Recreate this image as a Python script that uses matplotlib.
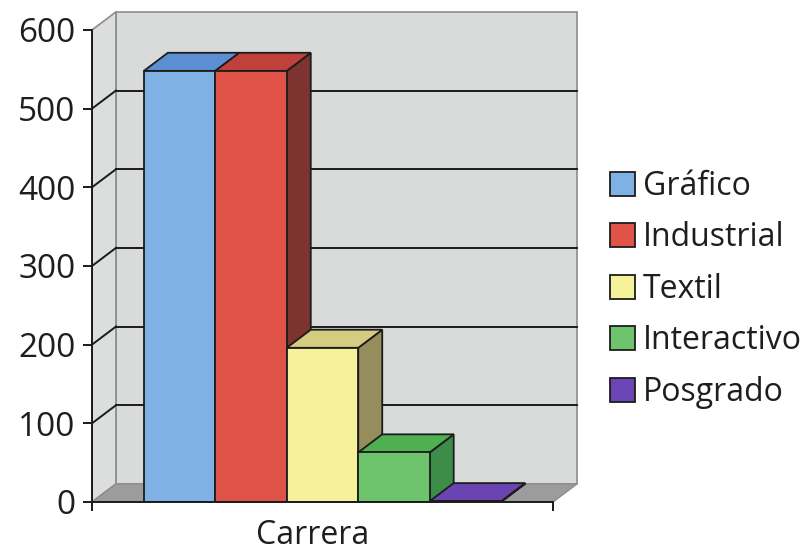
# Libraries
import matplotlib
matplotlib.use('Agg')
import matplotlib.pyplot as plt
from matplotlib.patches import Polygon, Rectangle, Patch

plt.rcParams['font.family'] = ['Open Sans', 'DejaVu Sans']

# Data
categorias = ['Gráfico', 'Industrial', 'Textil', 'Interactivo', 'Posgrado']
valores = [548, 548, 196, 63, 1]
ticks_y = [0, 100, 200, 300, 400, 500, 600]
etiqueta_x = 'Carrera'

# Colours (front, top, side)
frente = ['#7fb1e5', '#df5349', '#f6f29c', '#6dc46c', '#6b45b3']
arriba = ['#5b8ed3', '#c0413b', '#d4cc80', '#4fb052', '#6a44b0']
lado = ['#3f6fb0', '#7d3430', '#958d5c', '#3d8c48', '#4b2f85']

# 3D look: depth offset in data units
dx, dy = 0.052, 23
ymax = 600
ancho = 0.155
x_inicio = (1 - len(categorias)*ancho) / 2
borde = '#1c1c1c'
texto = '#1e1e1e'

fig = plt.figure(figsize=(8.11, 5.54), dpi=100)
ax = fig.add_axes([0.11344, 0.0939, 0.6026, 0.8946])
ax.set_xlim(0, 1.06)
ax.set_ylim(0, 630)

# Walls and floor
ax.add_patch(Polygon([(dx, dy), (1+dx, dy), (1+dx, ymax+dy), (dx, ymax+dy)],
                     closed=True, facecolor='#d9dbdb', edgecolor='#8c8c8c', lw=1.2, zorder=1))
ax.add_patch(Polygon([(0, 0), (dx, dy), (dx, ymax+dy), (0, ymax)],
                     closed=True, facecolor='#dcdede', edgecolor='#8c8c8c', lw=1.2, zorder=1))

# Grid lines on the back wall and the left wall
for v in ticks_y[1:-1]:
    ax.plot([dx, 1+dx], [v+dy, v+dy], color='#1a1a1a', lw=1.4, zorder=2)
    ax.plot([0, dx], [v, v+dy], color='#1a1a1a', lw=1.4, zorder=2)

ax.add_patch(Polygon([(0, 0), (1, 0), (1+dx, dy), (dx, dy)],
                     closed=True, facecolor='#9c9c9c', edgecolor='#8c8c8c', lw=1, zorder=2))

# Bars
for i, (v, cf, ct, cs) in enumerate(zip(valores, frente, arriba, lado)):
    x0 = x_inicio + i*ancho
    x1 = x0 + ancho
    ax.add_patch(Polygon([(x1, 0), (x1+dx, dy), (x1+dx, v+dy), (x1, v)],
                         closed=True, facecolor=cs, edgecolor=borde, lw=1.3, zorder=3+i))
    ax.add_patch(Polygon([(x0, v), (x1, v), (x1+dx, v+dy), (x0+dx, v+dy)],
                         closed=True, facecolor=ct, edgecolor=borde, lw=1.3, zorder=3+i))
    ax.add_patch(Rectangle((x0, 0), ancho, v, facecolor=cf, edgecolor=borde, lw=1.3, zorder=3+i))

# Axes
for s in ['top', 'right']:
    ax.spines[s].set_visible(False)
ax.spines['left'].set_bounds(0, ymax)
ax.spines['bottom'].set_bounds(0, 1)
for s in ['left', 'bottom']:
    ax.spines[s].set_color('#1a1a1a')
    ax.spines[s].set_linewidth(1.4)
    ax.spines[s].set_zorder(20)
ax.set_yticks(ticks_y)
ax.set_yticklabels([str(t) for t in ticks_y], fontsize=24, color=texto)
ax.set_xticks([0, 1])
ax.set_xticklabels(['', ''])
ax.tick_params(axis='both', direction='out', length=6.5, width=1.4, color='#1a1a1a', pad=5.5)
ax.text(0.478, -53, etiqueta_x, ha='center', va='baseline', fontsize=23, color=texto)

# Legend
handles = [Patch(facecolor=c, edgecolor=borde, lw=1.3) for c in frente]
fig.legend(handles, categorias, loc='center left', bbox_to_anchor=(0.752, 0.478),
           frameon=False, fontsize=23, handlelength=0.78, handleheight=0.78,
           handletextpad=0.25, labelspacing=0.58, borderpad=0, borderaxespad=0,
           labelcolor=texto)

plt.savefig('out.png', dpi=100)
